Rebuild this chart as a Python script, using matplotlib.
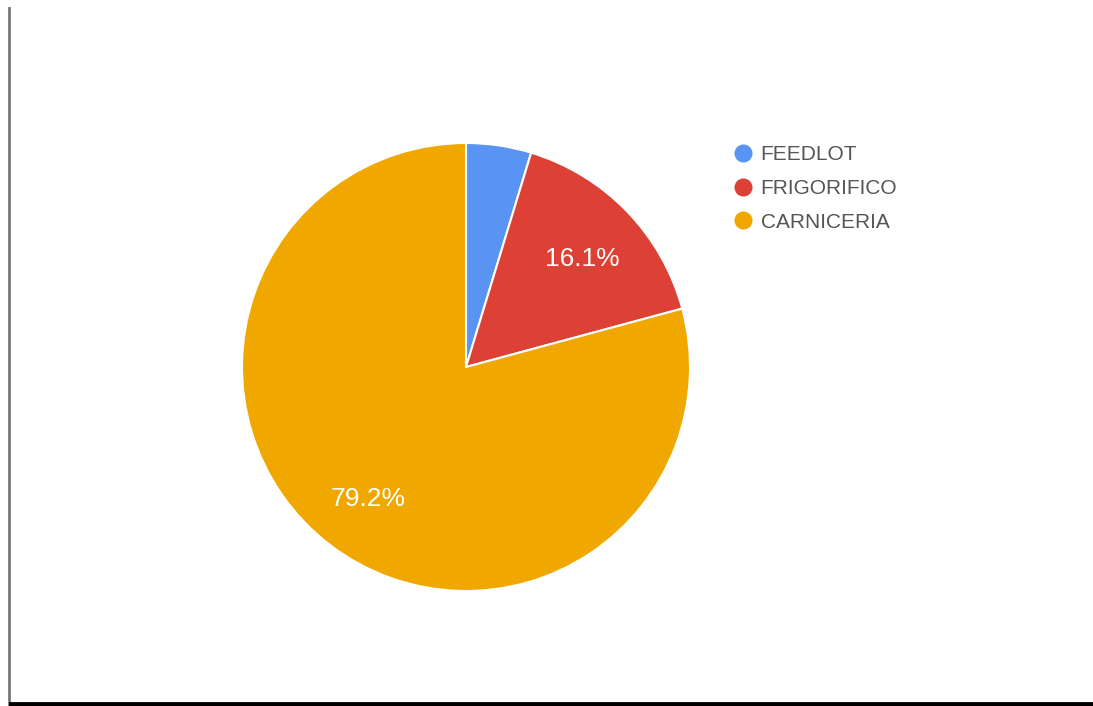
import matplotlib
matplotlib.use("Agg")
import matplotlib.pyplot as plt
from matplotlib.lines import Line2D

labels = ["FEEDLOT", "FRIGORIFICO", "CARNICERIA"]
values = [4.7, 16.1, 79.2]
colors = ["#5a94f3", "#dd4135", "#f0a800"]

W, H = 1093, 706
fig = plt.figure(figsize=(W / 100, H / 100), dpi=100)
fig.patch.set_facecolor("white")

# pie axes placed in pixels: centre (466, 367), radius 224
cx, cy, r = 466, 367, 224
ax = fig.add_axes([(cx - r) / W, (H - cy - r) / H, 2 * r / W, 2 * r / H])


def pctLabel(p):
    return "%.1f%%" % p if p >= 5 else ""


wedges, texts, autotexts = ax.pie(
    values, colors=colors, startangle=90, counterclock=False,
    autopct=pctLabel, pctdistance=0.72, radius=1,
    wedgeprops=dict(edgecolor="white", linewidth=1.5),
    textprops=dict(color="white", fontsize=19, family="Liberation Sans"))
# nudge the percentage labels a few pixels down
for t in autotexts:
    x, y = t.get_position()
    t.set_position((x, y - 4.0 / r))
ax.set_xlim(-1, 1)
ax.set_ylim(-1, 1)
ax.set_aspect("auto")
ax.axis("off")

handles = [Line2D([], [], marker="o", ls="", markersize=13, color=c,
                  markeredgewidth=0) for c in colors]
fig.legend(handles, labels, loc="upper left",
           bbox_to_anchor=(723 / W, 1 - 137 / H), frameon=False,
           prop=dict(family="Liberation Sans", size=15),
           labelcolor="#555555", handletextpad=0.3, labelspacing=0.7,
           handlelength=1.1, borderaxespad=0)

# page frame: grey shadow on the left, black line at the bottom
fig.add_artist(Line2D([9 / W, 9 / W], [0, 1 - 8 / H], color="#777777",
                      lw=2, transform=fig.transFigure))
fig.add_artist(Line2D([11 / W, 1], [2 / H, 2 / H], color="black",
                      lw=3.5, transform=fig.transFigure))

fig.savefig("out.png", dpi=100)
